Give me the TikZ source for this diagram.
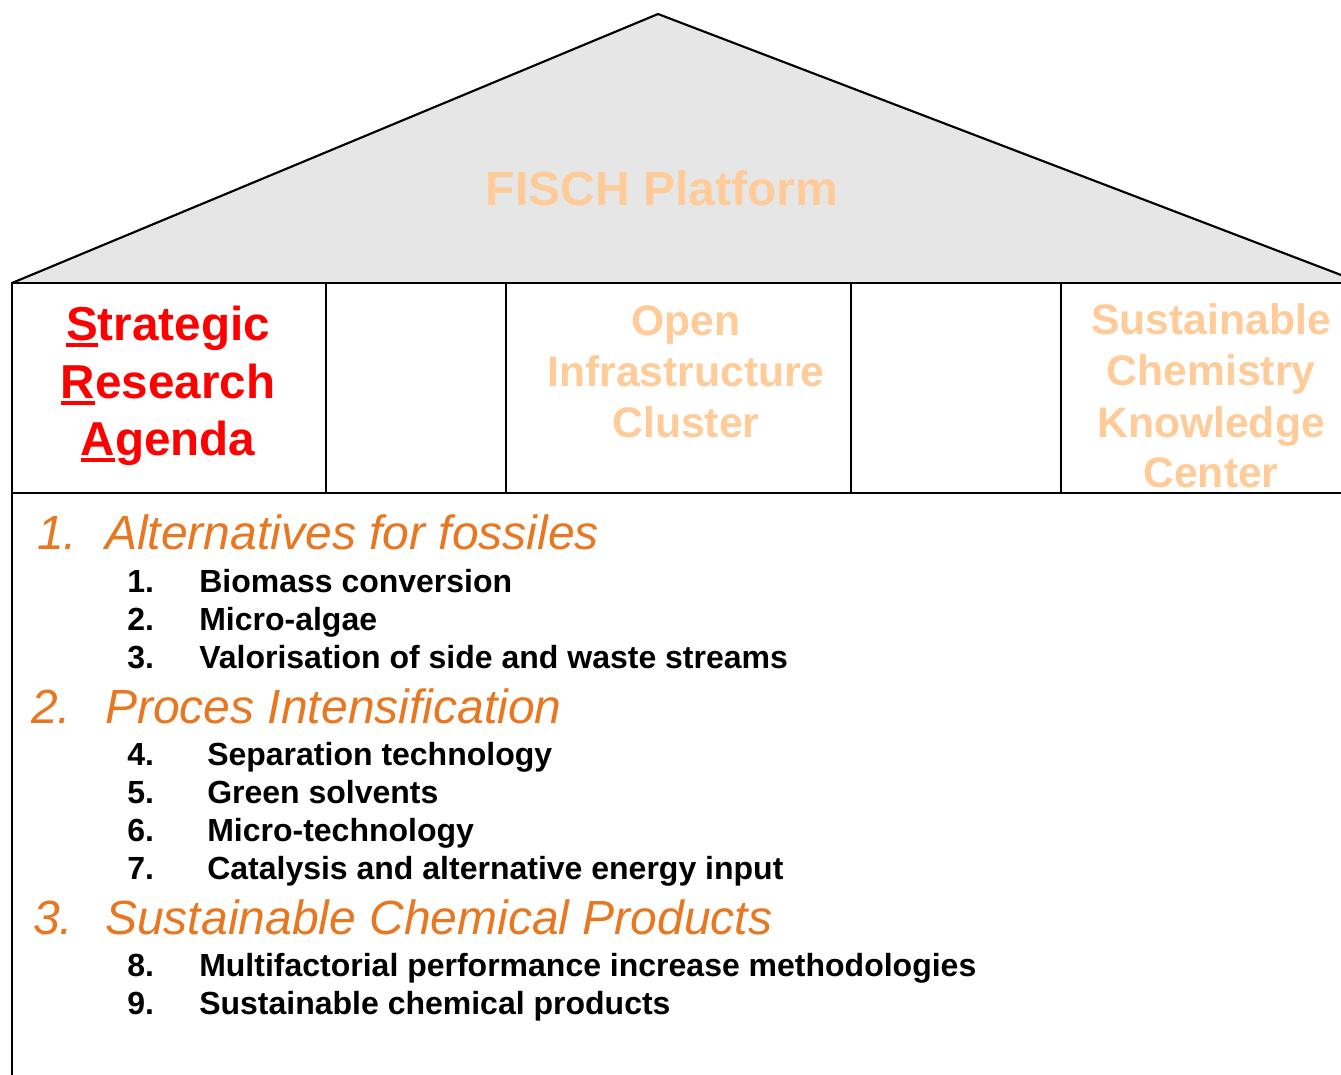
\documentclass[tikz,border=0pt]{standalone}
\usepackage{fontspec}
\setmainfont{Liberation Sans}
\definecolor{roofgray}{RGB}{230,230,230}
\definecolor{lightorange}{RGB}{255,204,153}
\definecolor{headorange}{RGB}{232,119,34}
\definecolor{srared}{RGB}{255,0,0}
\newcommand{\firstul}[1]{\setbox0\hbox{#1}\rlap{\rule[-5.25pt]{\wd0}{3pt}}#1}
\begin{document}
\begin{tikzpicture}[x=0.75pt,y=-0.75pt,
  frame/.style={line width=1.6pt,black},
  roofline/.style={line width=1.6pt,black,line join=miter},
  rooftext/.style={inner sep=0pt,anchor=base,text=lightorange,font=\bfseries\fontsize{36}{43}\selectfont},
  sraline/.style={inner sep=0pt,anchor=base,text=srared,font=\bfseries\fontsize{35.7}{43}\selectfont},
  pillarline/.style={inner sep=0pt,anchor=base,text=lightorange,font=\bfseries\fontsize{32}{38}\selectfont},
  headnum/.style={inner sep=0pt,anchor=base west,text=headorange,font=\itshape\fontsize{36}{43}\selectfont},
  headtext/.style={headnum},
  itemnum/.style={inner sep=0pt,anchor=base west,text=black,font=\bfseries\fontsize{24}{28}\selectfont},
  itemtext/.style={itemnum}]
\useasboundingbox (0,0) rectangle (1341,1074);
% roof
\fill[roofgray] (12,283) -- (658,14) -- (1362,283) -- cycle;
\draw[roofline] (12,283) -- (658,14) -- (1362,283);
\node[rooftext] (roof) at (662,205) {FISCH Platform};
% pillars row
\draw[frame] (1345,283) -- (12,283) -- (12,1080);
\draw[frame] (12,493) -- (1345,493);
\draw[frame] (326,283) -- (326,493);
\draw[frame] (506,283) -- (506,493);
\draw[frame] (851,283) -- (851,493);
\draw[frame] (1061,283) -- (1061,493);
% Strategic Research Agenda
\node[sraline] (sra1) at (168,340) {\firstul{S}trategic};
\node[sraline] (sra2) at (168,398) {\firstul{R}esearch};
\node[sraline] (sra3) at (168,455) {\firstul{A}genda};
% Open Infrastructure Cluster
\node[pillarline] (oic1) at (686,335) {Open};
\node[pillarline] (oic2) at (686,386) {Infrastructure};
\node[pillarline] (oic3) at (686,437) {Cluster};
% Sustainable Chemistry Knowledge Center
\node[pillarline] (sck1) at (1211,334) {Sustainable};
\node[pillarline] (sck2) at (1211,385) {Chemistry};
\node[pillarline] (sck3) at (1211,437) {Knowledge};
\node[pillarline] (sck4) at (1211,487) {Center};
% heading 1
\node[headnum] (h1n) at (37,549) {1.};
\node[headtext] (h1t) at (105,549) {Alternatives for fossiles};
\node[itemnum] (i1n) at (127,592) {1.};
\node[itemtext] (i1t) at (199,592) {Biomass conversion};
\node[itemnum] (i2n) at (127,630) {2.};
\node[itemtext] (i2t) at (199,630) {Micro-algae};
\node[itemnum] (i3n) at (127,668) {3.};
\node[itemtext] (i3t) at (199,668) {Valorisation of side and waste streams};
% heading 2
\node[headnum] (h2n) at (31,723) {2.};
\node[headtext] (h2t) at (105,723) {Proces Intensification};
\node[itemnum] (i4n) at (127,765) {4.};
\node[itemtext] (i4t) at (207,765) {Separation technology};
\node[itemnum] (i5n) at (127,803) {5.};
\node[itemtext] (i5t) at (207,803) {Green solvents};
\node[itemnum] (i6n) at (127,841) {6.};
\node[itemtext] (i6t) at (207,841) {Micro-technology};
\node[itemnum] (i7n) at (127,879) {7.};
\node[itemtext] (i7t) at (207,879) {Catalysis and alternative energy input};
% heading 3
\node[headnum] (h3n) at (33,934) {3.};
\node[headtext] (h3t) at (105,934) {Sustainable Chemical Products};
\node[itemnum] (i8n) at (127,976) {8.};
\node[itemtext] (i8t) at (199,976) {Multifactorial performance increase methodologies};
\node[itemnum] (i9n) at (127,1014) {9.};
\node[itemtext] (i9t) at (199,1014) {Sustainable chemical products};
\end{tikzpicture}
\end{document}
